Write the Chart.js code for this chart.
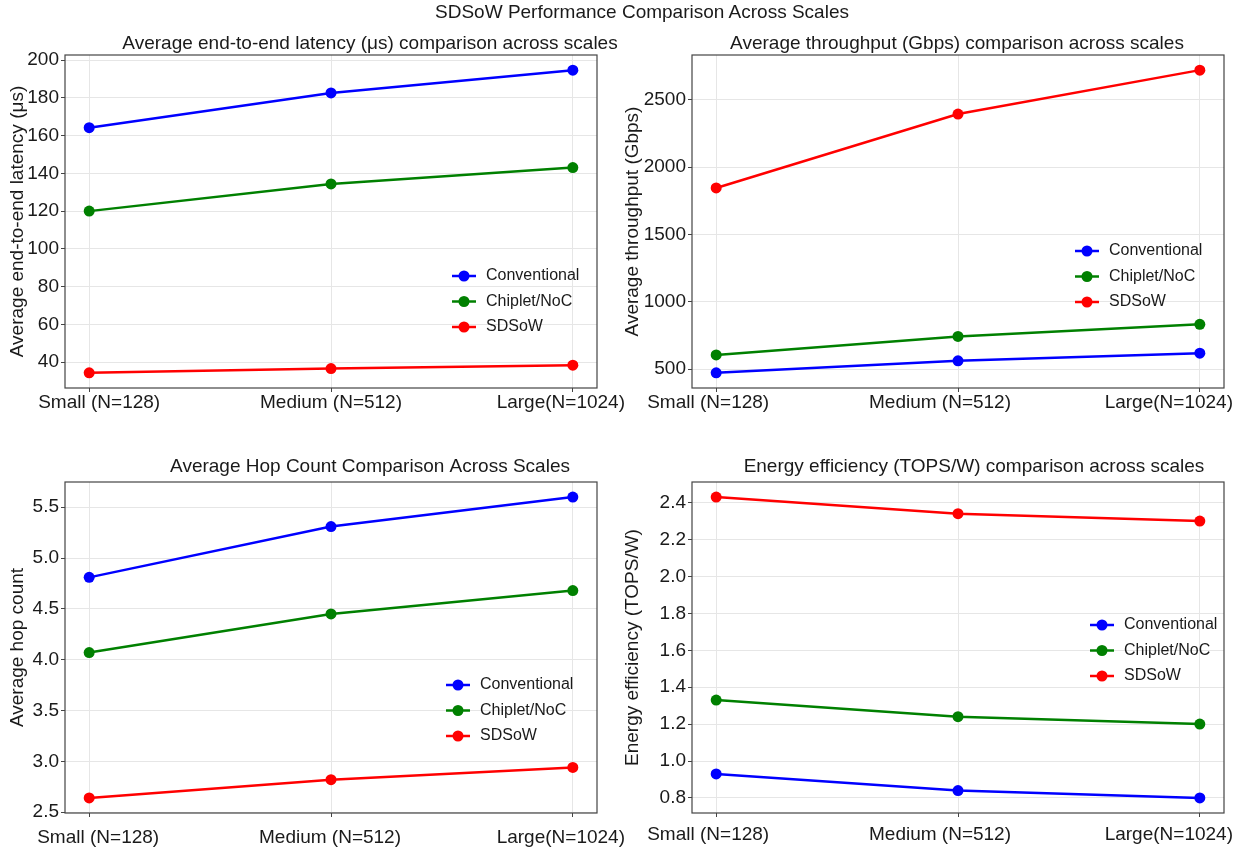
<!DOCTYPE html>
<html>
<head>
<meta charset="utf-8">
<title>SDSoW Performance Comparison Across Scales</title>
<script src="https://cdn.jsdelivr.net/npm/chart.js@4.4.0/dist/chart.umd.min.js"></script>
<style>
  body { margin: 0; background: #fff; }
  #pagina { position: relative; width: 1246px; height: 854px; overflow: hidden; font-family: "Liberation Sans", Arial, sans-serif; }
  #pagina canvas { position: absolute; }
  #suptitulo { position: absolute; left: 0; top: 1px; width: 1246px; padding-left: 38px; box-sizing: border-box; text-align: center; font-size: 19px; color: #1a1a1a; }
</style>
</head>
<body>
<div id="pagina">
  <canvas id="grafico-latencia" width="660" height="430" style="left:0;top:0"></canvas>
  <canvas id="grafico-throughput" width="631" height="430" style="left:615px;top:0"></canvas>
  <canvas id="grafico-hops" width="660" height="424" style="left:0;top:430px"></canvas>
  <canvas id="grafico-energia" width="631" height="424" style="left:615px;top:430px"></canvas>
  <div id="suptitulo">SDSoW Performance Comparison Across Scales</div>
</div>
<script>
// dados
const categorias = ["Small (N=128)", "Medium (N=512)", "Large(N=1024)"];
const series = ["Conventional", "Chiplet/NoC", "SDSoW"];
const cores = ["#0000ff", "#008000", "#ff0000"];

const latConventional = [164.2, 182.6, 194.7];
const latChiplet = [120.0, 134.4, 143.1];
const latSDSoW = [34.3, 36.6, 38.4];
const latTicks = [40, 60, 80, 100, 120, 140, 160, 180, 200];

const thrConventional = [473, 562, 619];
const thrChiplet = [606, 743, 833];
const thrSDSoW = [1845, 2393, 2719];
const thrTicks = [500, 1000, 1500, 2000, 2500];

const hopConventional = [4.81, 5.31, 5.60];
const hopChiplet = [4.07, 4.45, 4.68];
const hopSDSoW = [2.64, 2.82, 2.94];
const hopTicks = [2.5, 3.0, 3.5, 4.0, 4.5, 5.0, 5.5];

const effConventional = [0.93, 0.84, 0.80];
const effChiplet = [1.33, 1.24, 1.20];
const effSDSoW = [2.43, 2.34, 2.30];
const effTicks = [0.8, 1.0, 1.2, 1.4, 1.6, 1.8, 2.0, 2.2, 2.4];

const FONTE = '"Liberation Sans", Arial, sans-serif';
const TEXTO = "#1a1a1a";
const GRADE = "#e6e6e6";
const EIXO = "#444444";

// moldura, título, rótulos do eixo x e legenda dentro do gráfico
const painelPlugin = {
  id: "painel",
  afterDraw(chart, args, opts) {
    const ctx = chart.ctx;
    const a = chart.chartArea;
    ctx.save();
    ctx.strokeStyle = EIXO;
    ctx.lineWidth = 1.2;
    ctx.strokeRect(a.left, a.top, a.right - a.left, a.bottom - a.top);

    ctx.fillStyle = TEXTO;
    ctx.font = `19px ${FONTE}`;
    ctx.textAlign = "center";
    ctx.textBaseline = "middle";
    ctx.fillText(opts.titulo, (a.left + a.right) / 2 + opts.tituloDx, opts.tituloY);

    const xs = chart.scales.x;
    categorias.forEach((c, i) => {
      ctx.fillText(c, xs.getPixelForValue(i) + opts.rotuloDx[i], a.bottom + opts.rotuloDy);
    });

    ctx.font = `16px ${FONTE}`;
    ctx.textAlign = "left";
    chart.data.datasets.forEach((ds, i) => {
      const x = a.left + opts.legendaX;
      const y = a.top + opts.legendaY + i * 25.5;
      ctx.strokeStyle = ds.borderColor;
      ctx.lineWidth = 2.5;
      ctx.beginPath();
      ctx.moveTo(x, y);
      ctx.lineTo(x + 24, y);
      ctx.stroke();
      ctx.fillStyle = ds.borderColor;
      ctx.beginPath();
      ctx.arc(x + 12, y, 5.5, 0, Math.PI * 2);
      ctx.fill();
      ctx.fillStyle = TEXTO;
      ctx.fillText(ds.label, x + 34, y);
    });
    ctx.restore();
  }
};

function criarGrafico(id, valores, ticks, casas, tituloEixo, cfg) {
  const todos = valores.flat();
  const lo = Math.min(...todos);
  const hi = Math.max(...todos);
  const margem = (hi - lo) * 0.05;

  return new Chart(document.getElementById(id), {
    type: "line",
    data: {
      datasets: valores.map((v, s) => ({
        label: series[s],
        data: v.map((y, i) => ({ x: i, y: y })),
        borderColor: cores[s],
        backgroundColor: cores[s],
        borderWidth: 2.5,
        pointRadius: 5.5,
        pointHoverRadius: 5.5,
        pointBorderWidth: 0,
        tension: 0
      }))
    },
    options: {
      responsive: false,
      animation: false,
      events: [],
      layout: { padding: cfg.padding },
      plugins: {
        legend: { display: false },
        tooltip: { enabled: false },
        painel: cfg.painel
      },
      scales: {
        x: {
          type: "linear",
          min: -0.1,
          max: 2.1,
          afterBuildTicks: s => { s.ticks = categorias.map((c, i) => ({ value: i })); },
          afterFit: s => { s.height = cfg.alturaX; },
          ticks: { display: false },
          grid: { color: GRADE, tickColor: EIXO, tickLength: 4 },
          border: { display: false }
        },
        y: {
          min: lo - margem,
          max: hi + margem,
          afterBuildTicks: s => { s.ticks = ticks.map(v => ({ value: v })); },
          afterFit: s => { s.width = cfg.larguraY; },
          ticks: {
            callback: v => v.toFixed(casas),
            font: { size: 19, family: FONTE },
            color: TEXTO,
            padding: 2
          },
          grid: { color: GRADE, tickColor: EIXO, tickLength: 4 },
          border: { display: false },
          title: {
            display: true,
            text: tituloEixo,
            font: { size: 19, family: FONTE },
            color: TEXTO,
            padding: { top: 6, bottom: 0 }
          }
        }
      }
    },
    plugins: [painelPlugin]
  });
}

document.addEventListener("DOMContentLoaded", function () {
  criarGrafico("grafico-latencia", [latConventional, latChiplet, latSDSoW], latTicks, 0,
    "Average end-to-end latency (μs)", {
      padding: { top: 55, right: 63, bottom: 0, left: 0 },
      alturaX: 42, larguraY: 65,
      painel: {
        titulo: "Average end-to-end latency (μs) comparison across scales",
        tituloY: 44, tituloDx: 39,
        rotuloDx: [10, 0, -12], rotuloDy: 15,
        legendaX: 387, legendaY: 221
      }
    });

  criarGrafico("grafico-throughput", [thrConventional, thrChiplet, thrSDSoW], thrTicks, 0,
    "Average throughput (Gbps)", {
      padding: { top: 55, right: 22, bottom: 0, left: 0 },
      alturaX: 42, larguraY: 77,
      painel: {
        titulo: "Average throughput (Gbps) comparison across scales",
        tituloY: 44, tituloDx: -1,
        rotuloDx: [-8, -18, -31], rotuloDy: 15,
        legendaX: 383, legendaY: 196
      }
    });

  criarGrafico("grafico-hops", [hopConventional, hopChiplet, hopSDSoW], hopTicks, 1,
    "Average hop count", {
      padding: { top: 52, right: 63, bottom: 0, left: 0 },
      alturaX: 41, larguraY: 65,
      painel: {
        titulo: "Average Hop Count Comparison Across Scales",
        tituloY: 37, tituloDx: 39,
        rotuloDx: [9, -1, -12], rotuloDy: 25,
        legendaX: 381, legendaY: 203
      }
    });

  criarGrafico("grafico-energia", [effConventional, effChiplet, effSDSoW], effTicks, 1,
    "Energy efficiency (TOPS/W)", {
      padding: { top: 52, right: 22, bottom: 0, left: 0 },
      alturaX: 41, larguraY: 77,
      painel: {
        titulo: "Energy efficiency (TOPS/W) comparison across scales",
        tituloY: 37, tituloDx: 16,
        rotuloDx: [-8, -18, -31], rotuloDy: 22,
        legendaX: 398, legendaY: 143
      }
    });
});
</script>
</body>
</html>
